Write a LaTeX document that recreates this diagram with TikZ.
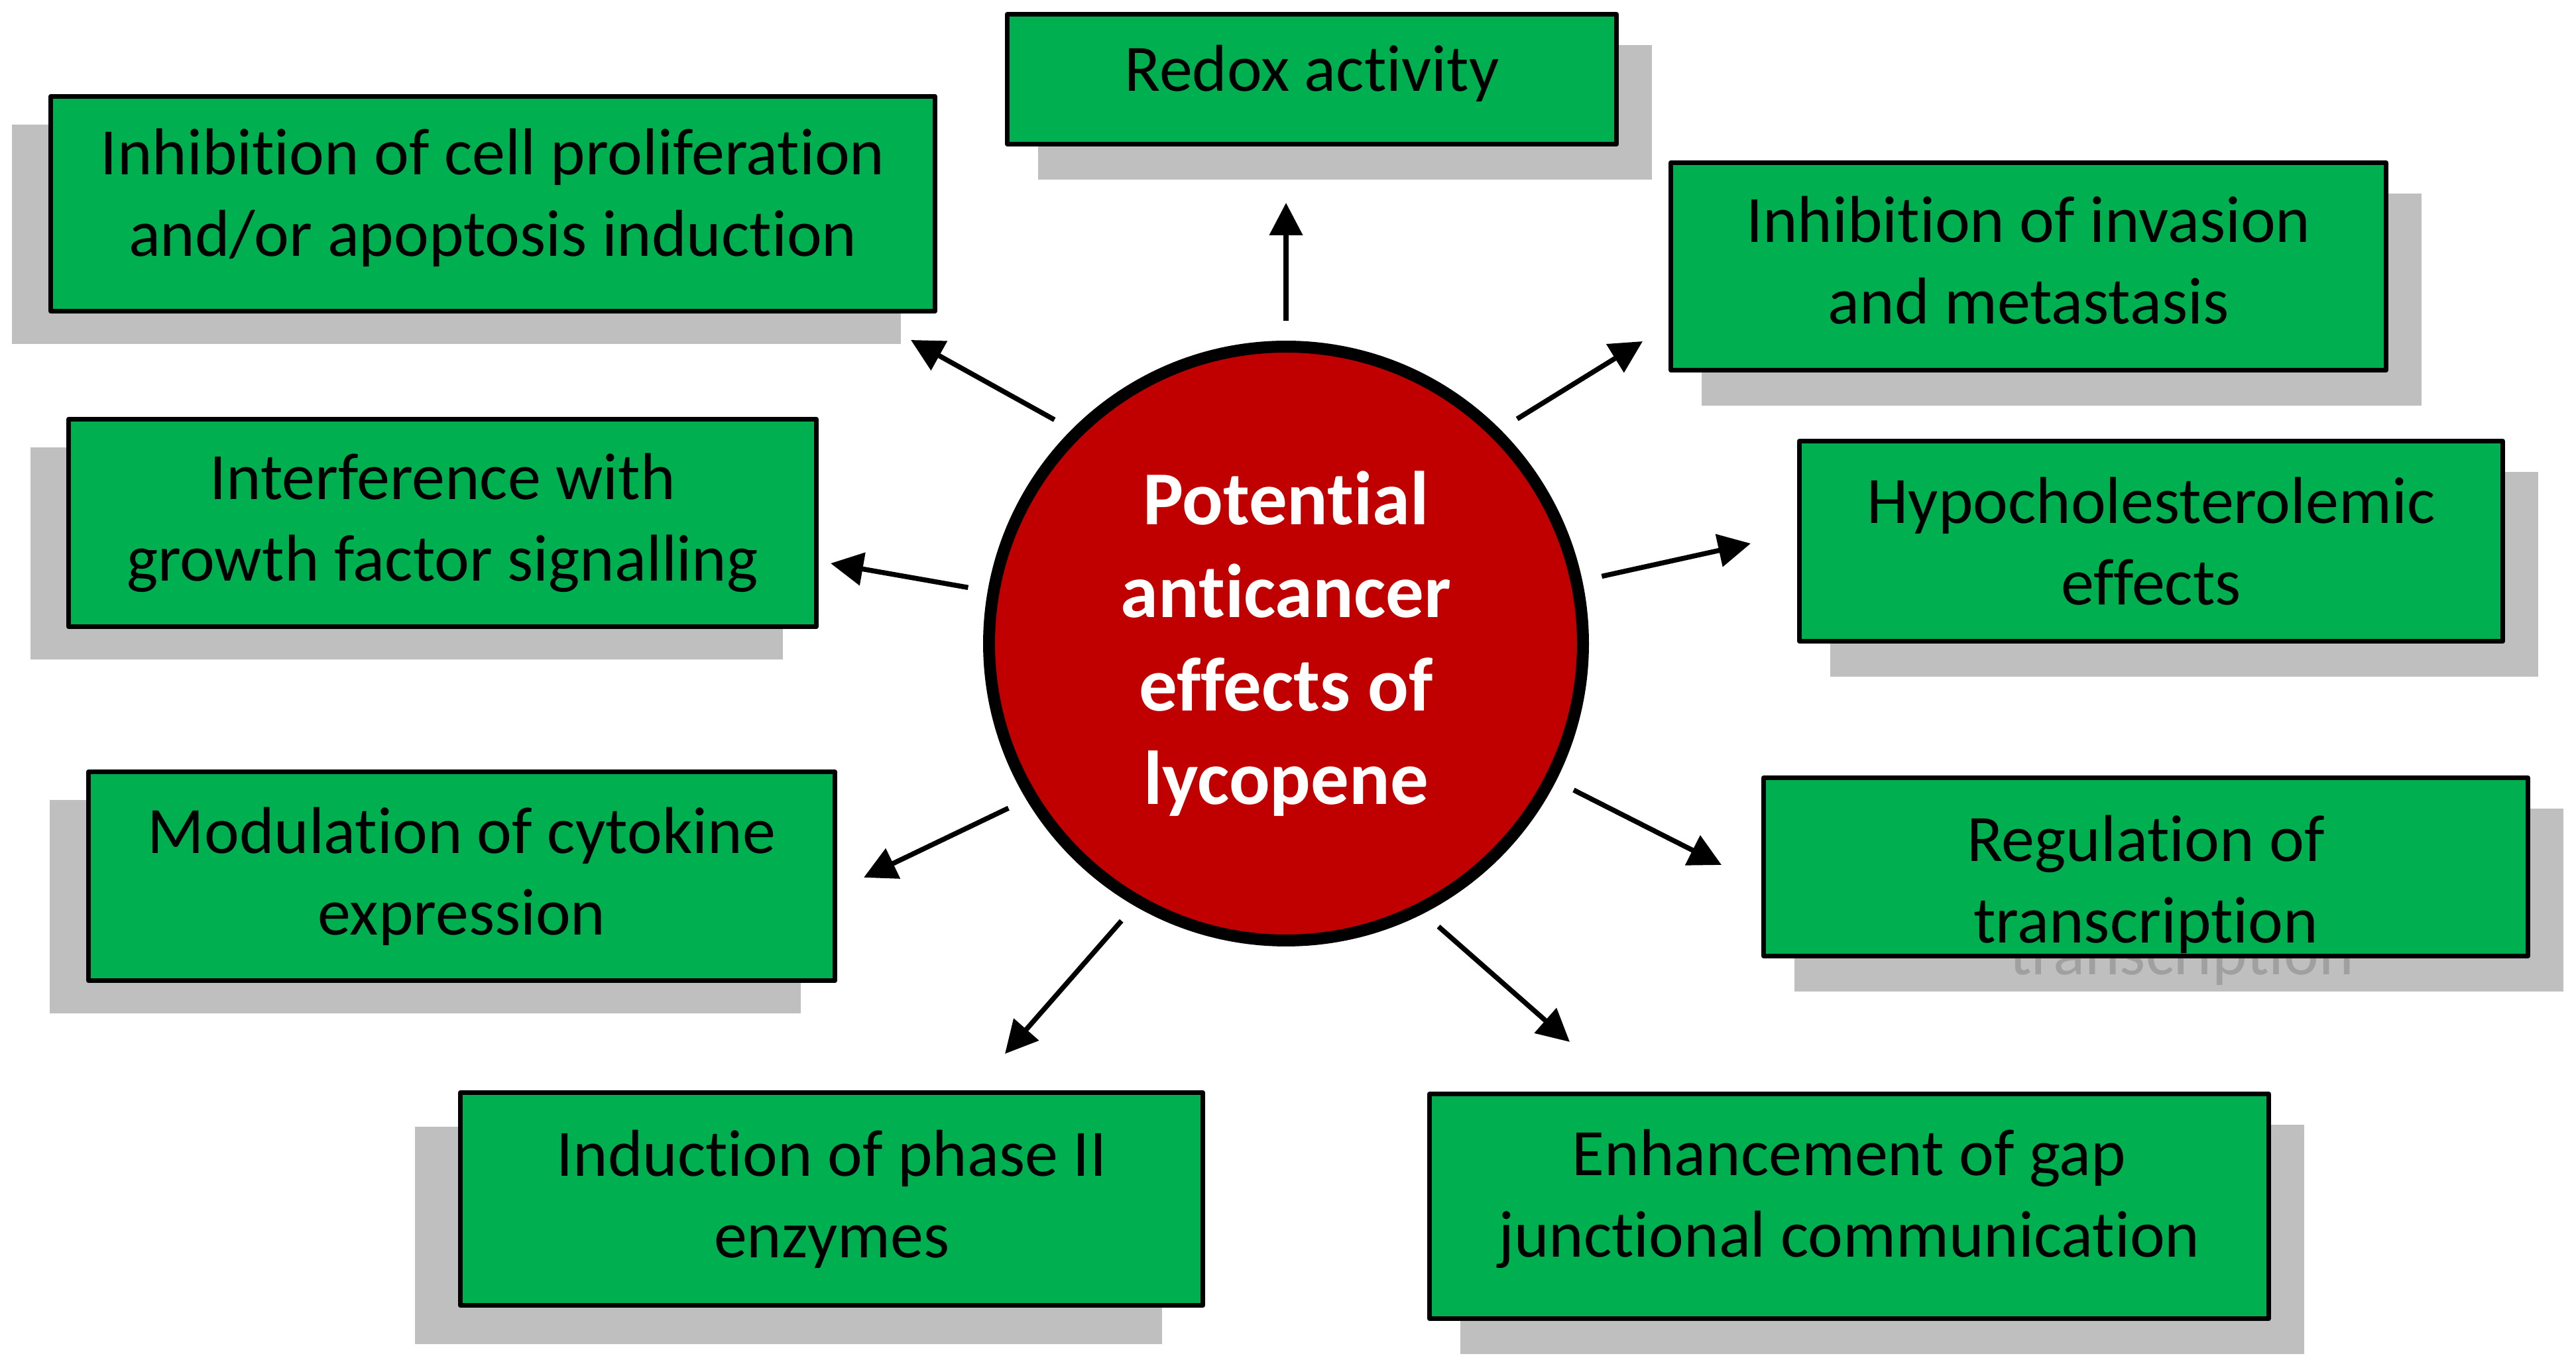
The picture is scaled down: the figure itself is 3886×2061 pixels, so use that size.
\documentclass[tikz,border=0pt]{standalone}
\usepackage{fontspec}
\setmainfont{Carlito}[Ligatures=NoCommon]
\usepackage{tikz}
\usetikzlibrary{arrows.meta}
\definecolor{boxgreen}{HTML}{00B050}
\definecolor{lycored}{HTML}{C00000}
\definecolor{shadegray}{HTML}{BFBFBF}
\definecolor{ghostgray}{HTML}{A0A0A0}
\newcommand{\BoxFont}{\fontsize{10pt}{12.3pt}\selectfont}
\newcommand{\HubFont}{\bfseries\fontsize{11.5pt}{14.07pt}\selectfont}
\newcommand{\TopPad}[1]{\rule{0pt}{#1}}
\newcommand{\BotPad}[1]{\rule[-#1]{0pt}{#1}}
\pgfdeclarelayer{shade}
\pgfsetlayers{shade,main}

\begin{document}
\begin{tikzpicture}[line cap=round,line join=round,>={Triangle[length=4.9pt,width=4.9pt]},x=0.1pt,y=-0.1pt,
  effect/.style={draw=black,line width=0.7pt,fill=boxgreen,align=center,font=\BoxFont,inner sep=0pt},
  arr/.style={->,line width=0.75pt,line cap=butt,shorten <=3pt}]
  \useasboundingbox (0,0) rectangle (3886,2061);
  \node[circle,draw=black,line width=1.8pt,fill=lycored,minimum size=89.6pt,inner sep=0pt,
    text=white,align=center,font=\HubFont] (lyco) at (1940,971) {Potential\\anticancer\\effects of\\lycopene};
  \node[effect,minimum width=91.9pt,minimum height=19.6pt] (redox) at (1979,119.5) {Redox activity\BotPad{3.4pt}};
  \node[effect,minimum width=133.4pt,minimum height=32.4pt] (prolif) at (743.5,307.5) {Inhibition of cell proliferation\\and/or apoptosis induction\BotPad{3.4pt}};
  \node[effect,minimum width=107.9pt,minimum height=31.3pt] (invas) at (3060,402) {Inhibition of invasion\\and metastasis\BotPad{2pt}};
  \node[effect,minimum width=112.8pt,minimum height=31.3pt] (growth) at (667.5,789) {Interference with\\growth factor signalling};
  \node[effect,minimum width=106.1pt,minimum height=30.2pt] (hypo) at (3245,816.5) {Hypocholesterolemic\\effects};
  \node[effect,minimum width=112.6pt,minimum height=31.5pt] (cyto) at (696.5,1322) {Modulation of cytokine\\expression};
  \node[effect,minimum width=115.3pt,minimum height=26.9pt] (transc) at (3237,1308) {\TopPad{12.3pt}Regulation of\\transcription};
  \node[effect,minimum width=112pt,minimum height=32.1pt] (phase) at (1254.5,1809) {Induction of phase II\\enzymes};
  \node[effect,minimum width=126.6pt,minimum height=33.9pt] (gap) at (2789.5,1820) {Enhancement of gap\\junctional communication\BotPad{4pt}};
  \begin{pgfonlayer}{shade}
    \foreach \n/\dx/\dy in {redox/50/50,prolif/-55/46,invas/50/50,growth/-54/46,hypo/50/50,cyto/-55/46,transc/50/50,phase/-65/55,gap/50/50}
    \fill[shadegray] ([shift={(\dx,\dy)}]\n.south west) rectangle ([shift={(\dx,\dy)}]\n.north east);
    \node[text=ghostgray,font=\BoxFont,anchor=base] (ghost) at ([shift={(54,163)}]transc.center) {transcription};
  \end{pgfonlayer}
  \coordinate (tRedox) at (1940,306);
  \coordinate (tProlif) at (1374,513);
  \coordinate (tInvas) at (2478,515);
  \coordinate (tGrowth) at (1253,850);
  \coordinate (tHypo) at (2641,820);
  \coordinate (tCyto) at (1303,1324);
  \coordinate (tTransc) at (2597,1305);
  \coordinate (tPhase) at (1516,1590);
  \coordinate (tGap) at (2368,1572);
  \foreach \a/\t in {90/tRedox,135/tProlif,45/tInvas,170/tGrowth,12/tHypo,211/tCyto,-27/tTransc,240/tPhase,-63.5/tGap}
  \draw[arr] (lyco.\a) -- (\t);
\end{tikzpicture}
\end{document}
